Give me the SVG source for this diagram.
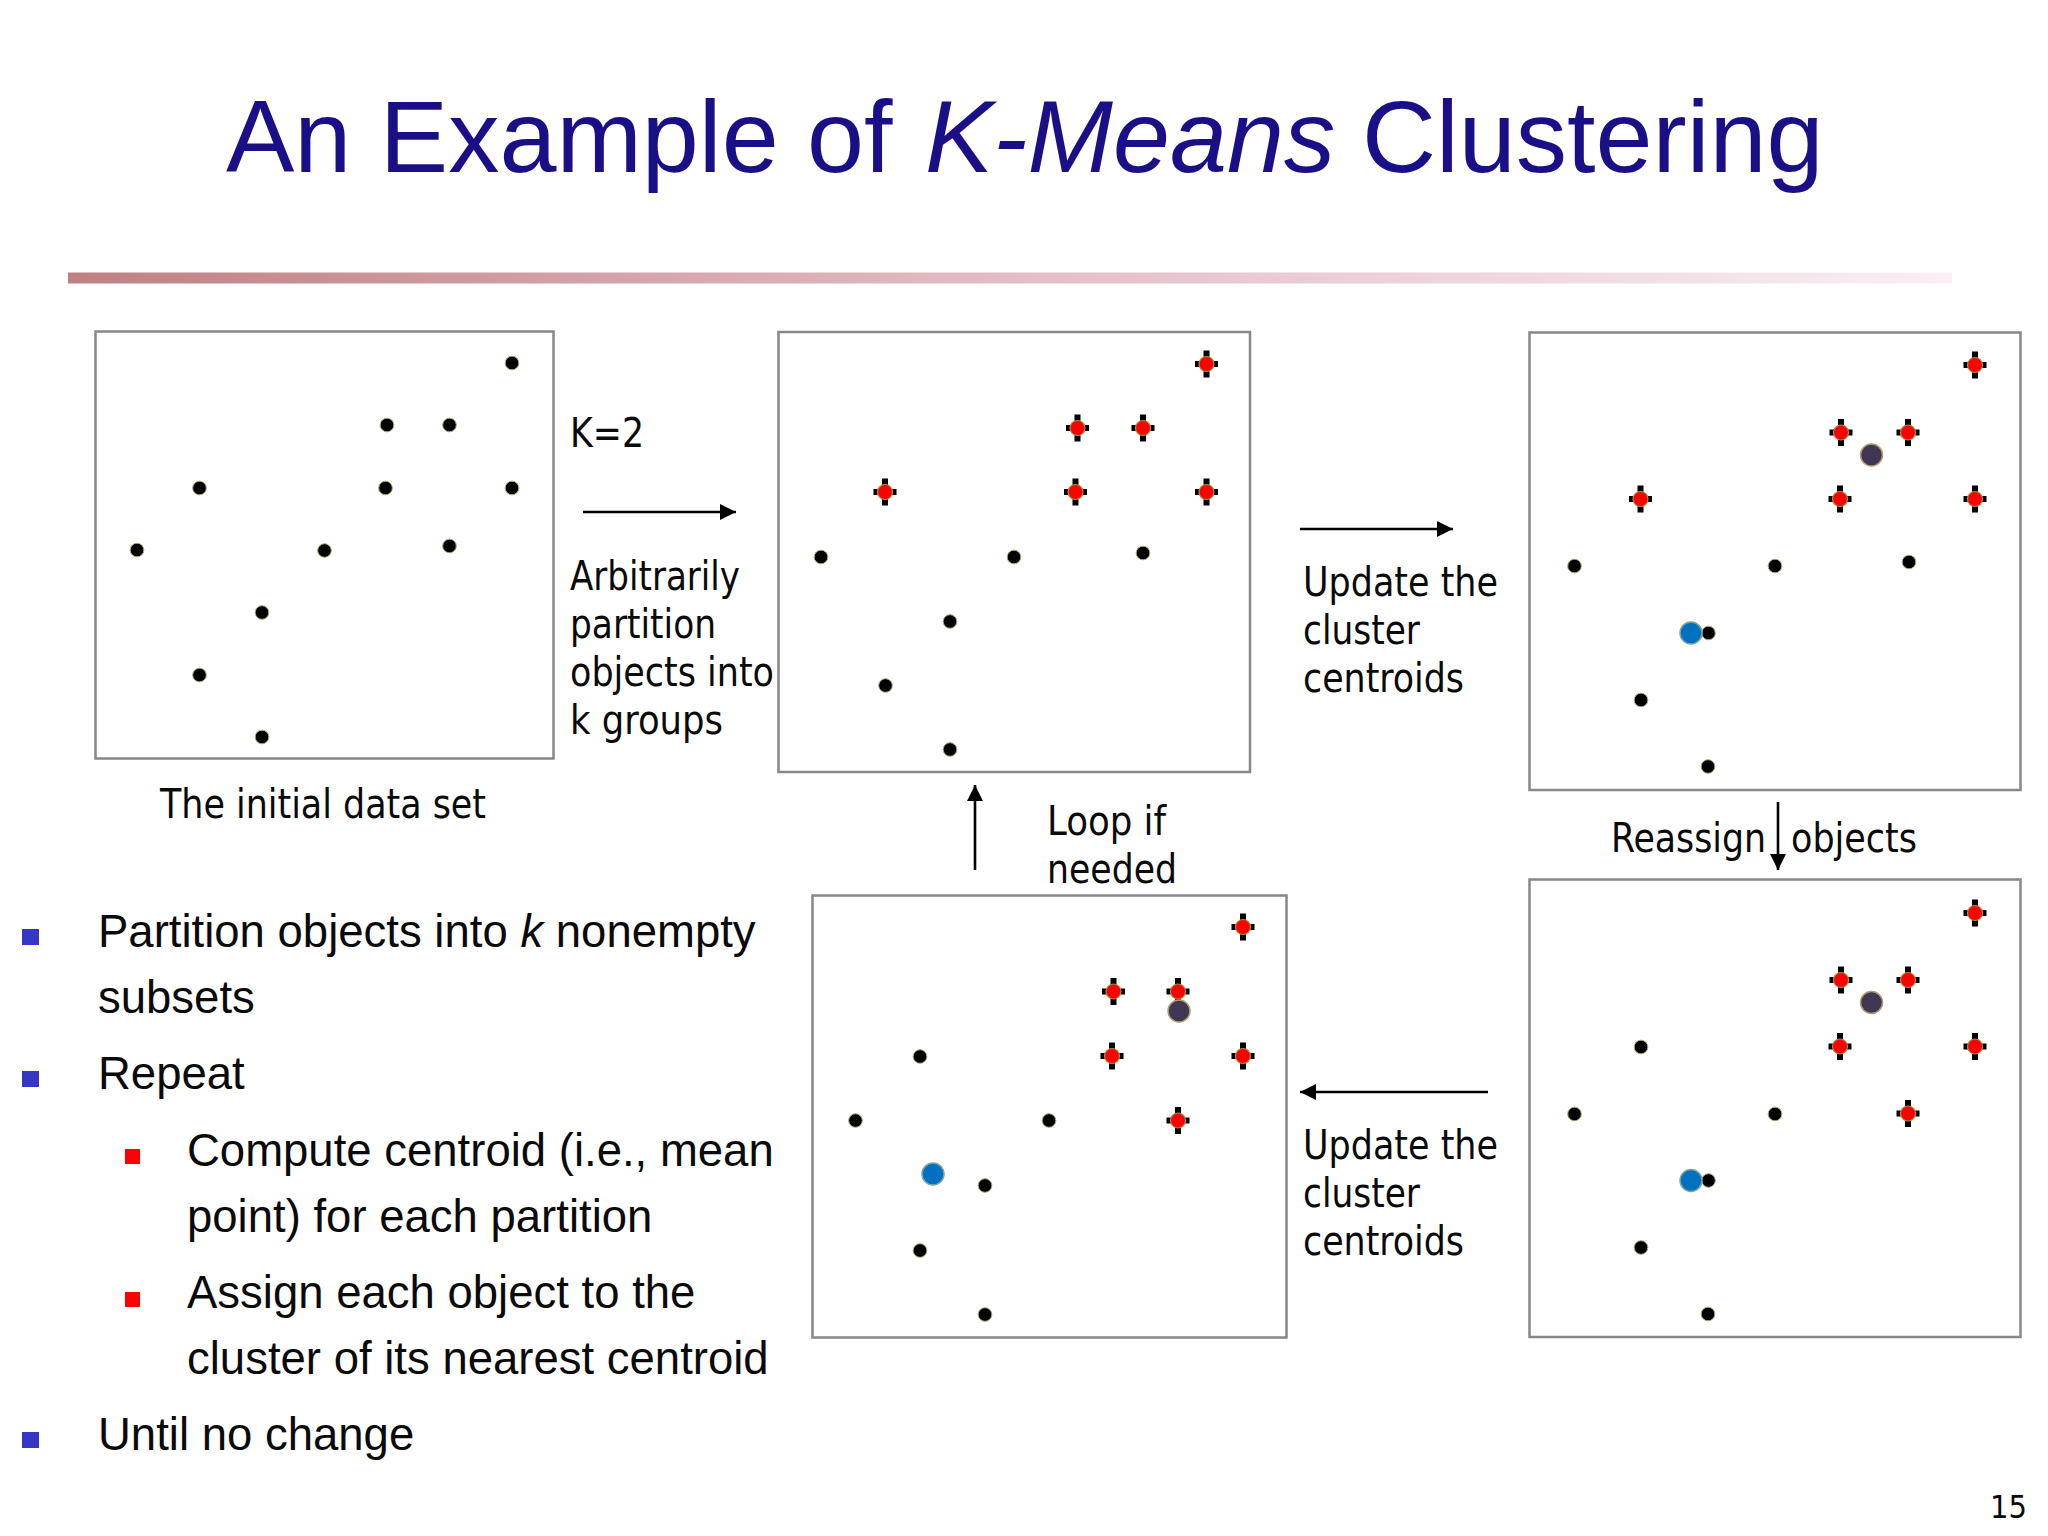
<svg xmlns="http://www.w3.org/2000/svg" xmlns:xlink="http://www.w3.org/1999/xlink" width="2048" height="1536" viewBox="0 0 2048 1536">
<style>
.box{fill:#fff;stroke:#87878c;stroke-width:2.5}
.title{font-family:"Liberation Sans",Arial,sans-serif;font-size:102.5px;fill:#1a0f86}
.body{font-family:"Liberation Sans",Arial,sans-serif;font-size:45.5px;fill:#0a0a0a}
.lab{font-family:"DejaVu Sans Condensed","DejaVu Sans",sans-serif;font-stretch:condensed;font-size:40px;fill:#0a0a0a}
.conn{stroke:#000;stroke-width:2.6;fill:none;marker-end:url(#ah)}
</style>
<defs>
<linearGradient id="bar" x1="0" x2="1" y1="0" y2="0"><stop offset="0" stop-color="#bf8082"/><stop offset="0.5" stop-color="#e4bcc6"/><stop offset="1" stop-color="#f9eff6"/></linearGradient>
<marker id="ah" markerUnits="userSpaceOnUse" markerWidth="18" markerHeight="18" refX="16" refY="8" orient="auto"><path d="M0 0L16 8L0 16Z" fill="#000"/></marker>
<g id="d"><circle r="6.800" fill="#000" stroke="#a8a870" stroke-width="1"/></g>
<g id="c"><rect x="-3" y="-13.500" width="6" height="27" fill="#000"/><rect x="-11.500" y="-3" width="23" height="6" fill="#000"/><circle r="7.500" fill="#fe0000" stroke="#a89048" stroke-width="1.200"/></g>
<g id="pu"><circle r="11" fill="#3f3654" stroke="#a8a070" stroke-width="1.500"/></g>
<g id="bl"><circle r="11" fill="#0070c0" stroke="#80a898" stroke-width="1.500"/></g>
</defs>
<rect width="2048" height="1536" fill="#fff"/>
<text class="title" x="226" y="171.500">An Example of <tspan font-style="italic" x="925">K-Means </tspan><tspan x="1362">Clustering</tspan></text>
<rect x="68" y="272.500" width="1884" height="11" fill="url(#bar)"/>

<g id="panel1">
<rect class="box" x="95.500" y="331.500" width="458" height="427"/>
<use href="#d" x="512" y="363"/><use href="#d" x="387" y="425"/><use href="#d" x="449.500" y="425"/><use href="#d" x="199.500" y="488"/><use href="#d" x="385.500" y="488"/><use href="#d" x="512" y="488"/><use href="#d" x="137" y="550"/><use href="#d" x="324.500" y="550.500"/><use href="#d" x="449.500" y="546"/><use href="#d" x="262" y="612.500"/><use href="#d" x="199.500" y="675"/><use href="#d" x="262" y="737"/>
</g>
<g id="panel2">
<rect class="box" x="778.500" y="332" width="471.500" height="440"/>
<use href="#c" x="1206.500" y="364"/><use href="#c" x="1077.500" y="428"/><use href="#c" x="1143" y="428"/><use href="#c" x="885" y="492"/><use href="#c" x="1075.500" y="492"/><use href="#c" x="1206.500" y="492"/>
<use href="#d" x="821" y="557"/><use href="#d" x="1014" y="557"/><use href="#d" x="1143" y="553"/><use href="#d" x="950" y="621.500"/><use href="#d" x="885.500" y="685.500"/><use href="#d" x="950" y="749.500"/>
</g>
<g id="panel3">
<rect class="box" x="1529.500" y="332.500" width="491" height="457.500"/>
<use href="#c" x="1975" y="365"/><use href="#c" x="1841" y="432.500"/><use href="#c" x="1908" y="432.500"/><use href="#c" x="1640.500" y="499"/><use href="#c" x="1840" y="499"/><use href="#c" x="1975" y="499"/>
<use href="#pu" x="1871.500" y="455"/>
<use href="#d" x="1574.500" y="566"/><use href="#d" x="1775" y="566"/><use href="#d" x="1909" y="562"/><use href="#d" x="1708.500" y="633"/><use href="#d" x="1641" y="700"/><use href="#d" x="1708" y="766.500"/>
<use href="#bl" x="1691" y="633"/>
</g>
<g id="panel4">
<rect class="box" x="1529.500" y="879.500" width="491" height="457.500"/>
<use href="#c" x="1975" y="913"/><use href="#c" x="1841" y="980"/><use href="#c" x="1908" y="980"/><use href="#c" x="1840" y="1046.500"/><use href="#c" x="1975" y="1046.500"/><use href="#c" x="1908" y="1113.500"/>
<use href="#pu" x="1871.500" y="1002.500"/>
<use href="#d" x="1641" y="1047"/><use href="#d" x="1574.500" y="1114"/><use href="#d" x="1775" y="1114"/><use href="#d" x="1708.500" y="1180.500"/><use href="#d" x="1641" y="1247.500"/><use href="#d" x="1708" y="1314"/>
<use href="#bl" x="1691" y="1180.500"/>
</g>
<g id="panel5">
<rect class="box" x="812.500" y="895.500" width="474" height="442"/>
<use href="#c" x="1243" y="927"/><use href="#c" x="1113.500" y="991.500"/><use href="#c" x="1178" y="991.500"/><use href="#c" x="1112" y="1056"/><use href="#c" x="1243" y="1056"/><use href="#c" x="1178" y="1120.500"/>
<use href="#pu" x="1179" y="1011"/>
<use href="#d" x="920" y="1056.500"/><use href="#d" x="855.500" y="1120.500"/><use href="#d" x="1049" y="1120.500"/><use href="#d" x="985" y="1185.500"/><use href="#d" x="920" y="1250.500"/><use href="#d" x="985" y="1314.500"/>
<use href="#bl" x="933" y="1174"/>
</g>

<g id="connectors">
<path class="conn" d="M583 512H736"/>
<path class="conn" d="M1300 529H1453"/>
<path class="conn" d="M1778 802V870"/>
<path class="conn" d="M1488 1092H1300"/>
<path class="conn" d="M975 870V785"/>
</g>

<g id="labels">
<text class="lab" x="160" y="818" textLength="326" lengthAdjust="spacingAndGlyphs">The initial data set</text>
<text class="lab" x="570" y="447" textLength="74" lengthAdjust="spacingAndGlyphs">K=2</text>
<text class="lab" x="570" y="590" textLength="170" lengthAdjust="spacingAndGlyphs">Arbitrarily</text>
<text class="lab" x="570" y="638" textLength="146" lengthAdjust="spacingAndGlyphs">partition</text>
<text class="lab" x="570" y="686" textLength="204" lengthAdjust="spacingAndGlyphs">objects into</text>
<text class="lab" x="570" y="734" textLength="153" lengthAdjust="spacingAndGlyphs">k groups</text>
<text class="lab" x="1303" y="596" textLength="195" lengthAdjust="spacingAndGlyphs">Update the</text>
<text class="lab" x="1303" y="644" textLength="117" lengthAdjust="spacingAndGlyphs">cluster</text>
<text class="lab" x="1303" y="692" textLength="161" lengthAdjust="spacingAndGlyphs">centroids</text>
<text class="lab" x="1611" y="852" textLength="155" lengthAdjust="spacingAndGlyphs">Reassign</text>
<text class="lab" x="1791" y="852" textLength="126" lengthAdjust="spacingAndGlyphs">objects</text>
<text class="lab" x="1047" y="835" textLength="119" lengthAdjust="spacingAndGlyphs">Loop if</text>
<text class="lab" x="1047" y="883" textLength="130" lengthAdjust="spacingAndGlyphs">needed</text>
<text class="lab" x="1303" y="1159" textLength="195" lengthAdjust="spacingAndGlyphs">Update the</text>
<text class="lab" x="1303" y="1206.500" textLength="117" lengthAdjust="spacingAndGlyphs">cluster</text>
<text class="lab" x="1303" y="1254.500" textLength="161" lengthAdjust="spacingAndGlyphs">centroids</text>
<text class="lab" x="1990" y="1518" textLength="37" lengthAdjust="spacingAndGlyphs" style="font-size:32px">15</text>
</g>

<g id="bullets">
<rect x="22" y="929" width="17" height="16" fill="#3636c4"/>
<rect x="22" y="1071" width="17" height="16" fill="#3636c4"/>
<rect x="22" y="1432" width="17" height="16" fill="#3636c4"/>
<rect x="125" y="1149" width="15" height="15" fill="#f00"/>
<rect x="125" y="1292" width="15" height="15" fill="#f00"/>
<text class="body" x="98" y="947">Partition objects into <tspan font-style="italic">k</tspan> nonempty</text>
<text class="body" x="98" y="1013">subsets</text>
<text class="body" x="98" y="1089">Repeat</text>
<text class="body" x="187" y="1165.500">Compute centroid (i.e., mean</text>
<text class="body" x="187" y="1231.500">point) for each partition</text>
<text class="body" x="187" y="1307.500">Assign each object to the</text>
<text class="body" x="187" y="1373.500">cluster of its nearest centroid</text>
<text class="body" x="98" y="1450">Until no change</text>
</g>
</svg>
